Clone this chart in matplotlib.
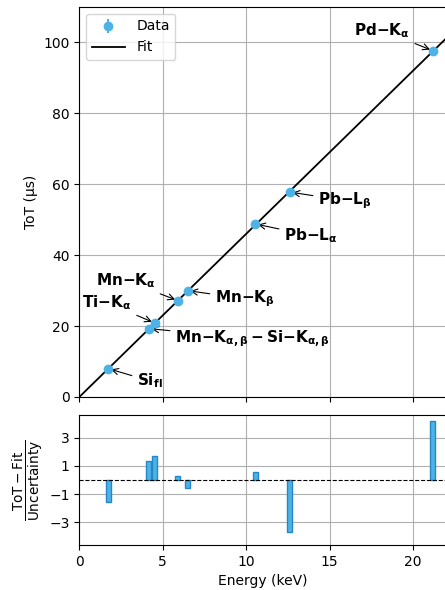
import matplotlib
matplotlib.use("Agg")
import matplotlib.pyplot as plt
import numpy as np

# Calibration lines: energy (keV), measured ToT (us), residual in units of uncertainty
labels = [r"$\mathbf{Si_{fl}}$", r"$\mathbf{Mn{-}K_{\alpha,\beta}-Si{-}K_{\alpha,\beta}}$",
          r"$\mathbf{Ti{-}K_{\alpha}}$", r"$\mathbf{Mn{-}K_{\alpha}}$", r"$\mathbf{Mn{-}K_{\beta}}$",
          r"$\mathbf{Pb{-}L_{\alpha}}$", r"$\mathbf{Pb{-}L_{\beta}}$", r"$\mathbf{Pd{-}K_{\alpha}}$"]
energy = [1.74, 4.16, 4.51, 5.90, 6.49, 10.55, 12.61, 21.18]
tot = [8.0, 19.3, 20.9, 27.2, 30.0, 48.8, 57.8, 97.7]
tot_err = [0.3, 0.3, 0.3, 0.3, 0.3, 0.3, 0.3, 0.3]
residual = [-1.58, 1.38, 1.73, 0.30, -0.56, 0.58, -3.69, 4.15]
label_pos = [(4.25, 4.5), (10.4, 16.4), (1.65, 26.6), (2.8, 32.8), (9.95, 27.7),
             (13.9, 45.5), (15.95, 55.4), (18.15, 103.4)]

fit_slope = 4.6
fit_intercept = 0.0

POINT_COLOR = "#4db3e6"
BAR_EDGE = "#2586c8"

fig = plt.figure(figsize=(4.45, 5.9), dpi=100)
ax = fig.add_axes([79.3 / 445, 193 / 590, 367 / 445, 390 / 590])
axr = fig.add_axes([79.3 / 445, 45 / 590, 367 / 445, 130 / 590], sharex=ax)

x_fit = np.array([0, 22])
ax.plot(x_fit, fit_slope * x_fit + fit_intercept, color="black", lw=1.3, label="Fit", zorder=2)
ax.errorbar(energy, tot, yerr=tot_err, fmt="o", color=POINT_COLOR, ms=6, label="Data", zorder=3)

for lab, e, t, pos in zip(labels, energy, tot, label_pos):
    ax.annotate(lab, xy=(e, t), xytext=pos, ha="center", va="center", fontsize=11,
                arrowprops=dict(arrowstyle="->", color="black", lw=0.8))

ax.set_xlim(0, 22)
ax.set_ylim(0, 110)
ax.set_yticks([0, 20, 40, 60, 80, 100])
ax.set_ylabel("ToT (µs)")
ax.grid(True, color="#b0b0b0", lw=0.8)
ax.set_axisbelow(True)
ax.tick_params(labelbottom=False)
handles, labs = ax.get_legend_handles_labels()
ax.legend(handles[::-1], labs[::-1], loc="upper left", fontsize=10, handlelength=2.4)

axr.bar(energy, residual, width=0.33, color=POINT_COLOR, edgecolor=BAR_EDGE, lw=1, zorder=3)
axr.axhline(0, color="black", ls="--", lw=0.8, zorder=4)
axr.set_ylim(-4.6, 4.6)
axr.set_yticks([-3, -1, 1, 3])
axr.set_xticks([0, 5, 10, 15, 20])
axr.grid(True, color="#b0b0b0", lw=0.8)
axr.set_axisbelow(True)
axr.set_xlabel("Energy (keV)")
axr.set_ylabel(r"$\frac{\mathrm{ToT - Fit}}{\mathrm{Uncertainty}}$", fontsize=14, labelpad=2)

fig.savefig("out.png", dpi=100)
